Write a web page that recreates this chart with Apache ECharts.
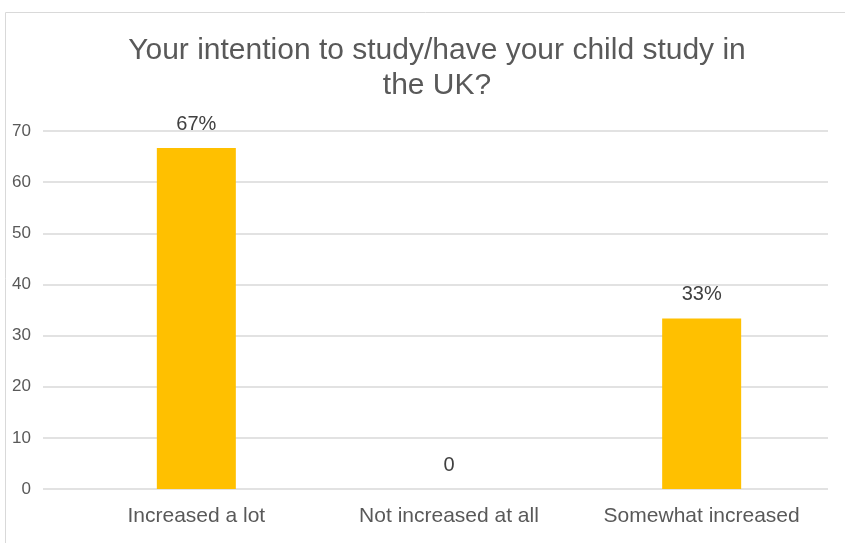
<!DOCTYPE html>
<html><head><meta charset="utf-8">
<script src="https://cdn.jsdelivr.net/npm/echarts@6/dist/echarts.min.js"></script>
<style>html,body{margin:0;padding:0;background:#fff}#c{width:845px;height:543px}</style>
</head><body><div id="c"></div>
<script>
var titleText = 'Your intention to study/have your child study in\nthe UK?';
var categories = ['Increased a lot', 'Not increased at all', 'Somewhat increased'];
var values = [66.67, 0, 33.33];
var valueLabels = ['67%', '0', '33%'];
var yMin = 0, yMax = 70, yInterval = 10;

var chart = echarts.init(document.getElementById('c'));
var font = '"Liberation Sans",Arial,sans-serif';
chart.setOption({
  animation: false,
  textStyle: { fontFamily: font },
  title: {
    text: titleText, left: 432, textAlign: 'center', top: 28,
    textStyle: { fontFamily: font, fontSize: 30, fontWeight: 'normal', color: '#595959', lineHeight: 35 }
  },
  graphic: [{
    type: 'rect', shape: { x: 5.5, y: 12.5, width: 860, height: 560 },
    style: { fill: 'none', stroke: '#d9d9d9', lineWidth: 1 }, silent: true, z: -10
  }],
  grid: [
    { left: 43, right: 17, top: 131, bottom: 54 },
    { left: 70, right: 17, top: 131, bottom: 54 }
  ],
  xAxis: [
    { gridIndex: 0, type: 'category', data: categories, show: false },
    {
      gridIndex: 1, type: 'category', data: categories,
      axisLine: { show: false }, axisTick: { show: false },
      axisLabel: { color: '#595959', fontSize: 21, fontFamily: font, margin: 17, interval: 0, hideOverlap: false }
    }
  ],
  yAxis: [
    {
      gridIndex: 0, type: 'value', min: yMin, max: yMax, interval: yInterval,
      axisLine: { show: false }, axisTick: { show: false },
      axisLabel: { color: '#595959', fontSize: 17, fontFamily: font, margin: 12 },
      splitLine: { lineStyle: { color: '#d9d9d9', width: 1.5 } }
    },
    {
      gridIndex: 1, type: 'value', min: yMin, max: yMax, interval: yInterval,
      show: false, splitLine: { show: false }
    }
  ],
  series: [{
    type: 'bar', xAxisIndex: 1, yAxisIndex: 1,
    data: values, barWidth: 79,
    itemStyle: { color: '#FFC000' },
    label: {
      show: true, position: 'top', distance: 14,
      color: '#404040', fontSize: 20, fontFamily: font,
      formatter: function (p) { return valueLabels[p.dataIndex]; }
    }
  }]
});
</script></body></html>
